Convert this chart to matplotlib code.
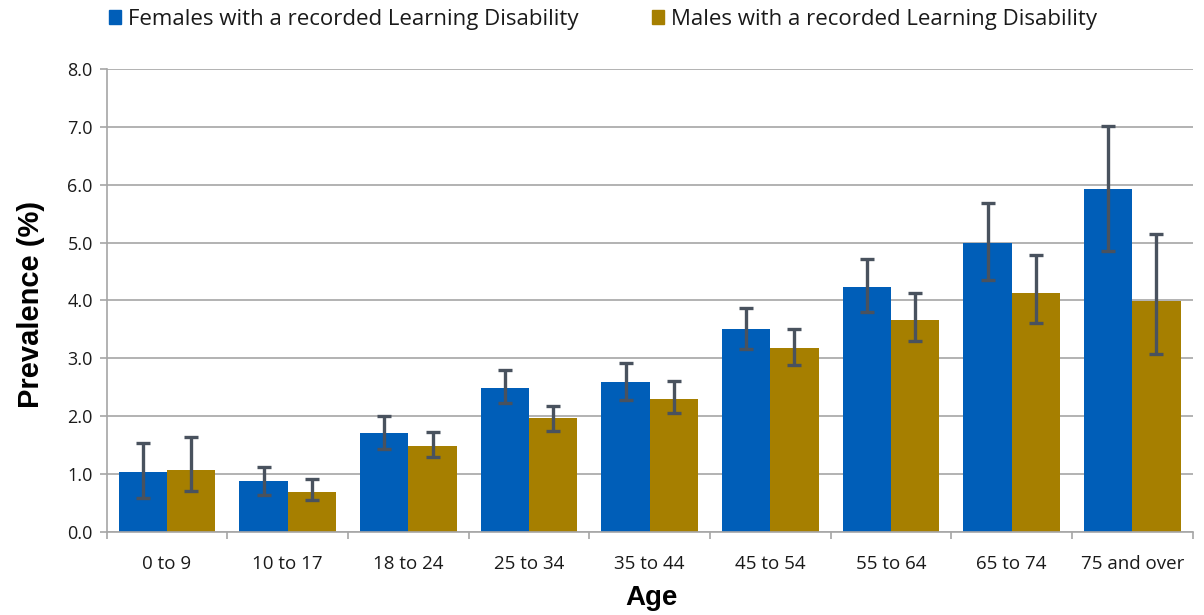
# prevalence of recorded learning disability by age and sex

import matplotlib
matplotlib.use("Agg")
import matplotlib.pyplot as plt
import matplotlib.patches as mpatches
import numpy as np

yas_gruplari = ["0 to 9", "10 to 17", "18 to 24", "25 to 34", "35 to 44",
                "45 to 54", "55 to 64", "65 to 74", "75 and over"]

kadin     = [1.04, 0.88, 1.71, 2.49, 2.59, 3.50, 4.23, 5.00, 5.92]
kadin_alt = [0.58, 0.64, 1.43, 2.22, 2.28, 3.16, 3.79, 4.36, 4.86]
kadin_ust = [1.53, 1.12, 2.00, 2.79, 2.92, 3.86, 4.71, 5.68, 7.02]

erkek     = [1.07, 0.69, 1.48, 1.96, 2.30, 3.18, 3.66, 4.13, 3.99]
erkek_alt = [0.71, 0.55, 1.30, 1.74, 2.06, 2.88, 3.29, 3.61, 3.07]
erkek_ust = [1.63, 0.91, 1.72, 2.18, 2.61, 3.51, 4.12, 4.78, 5.15]

MAVI  = "#005EB8"
ALTIN = "#A67F00"
HATA  = "#49525E"
IZGARA = "#A6A6A6"
YAZI = "#1A1A1A"

plt.rcParams["font.family"] = ["Open Sans", "DejaVu Sans"]

fig = plt.figure(figsize=(12.04, 6.15), dpi=100)
ax = fig.add_axes([106.7 / 1204, 1 - 531.7 / 615,
                   (1192.7 - 106.7) / 1204, (531.7 - 69) / 615])

x = np.arange(len(yas_gruplari))
genislik = 0.4

k_hata = [np.array(kadin) - np.array(kadin_alt), np.array(kadin_ust) - np.array(kadin)]
e_hata = [np.array(erkek) - np.array(erkek_alt), np.array(erkek_ust) - np.array(erkek)]

hata_stil = dict(ecolor=HATA, elinewidth=2.4, capsize=5, capthick=2.4)

ax.bar(x - genislik / 2, kadin, genislik, color=MAVI, zorder=2,
       yerr=k_hata, error_kw=hata_stil)
ax.bar(x + genislik / 2, erkek, genislik, color=ALTIN, zorder=2,
       yerr=e_hata, error_kw=hata_stil)

ax.set_xlim(-0.5, len(yas_gruplari) - 0.5)
ax.set_ylim(0, 8)
ax.set_yticks(np.arange(0, 8.1, 1.0))
ax.set_yticklabels([f"{v:.1f}" for v in np.arange(0, 8.1, 1.0)], fontsize=13, color=YAZI)
ax.yaxis.grid(True, color=IZGARA, linewidth=1.2, zorder=0)
ax.set_axisbelow(True)

# kategori sinirlarinda tick, ortada etiket
ax.set_xticks(np.arange(-0.5, len(yas_gruplari), 1.0))
ax.set_xticklabels([])
ax.set_xticks(x, minor=True)
ax.set_xticklabels(yas_gruplari, minor=True, fontsize=13.5, color=YAZI)
ax.tick_params(axis="x", which="major", direction="out", length=5, width=1.2, color=IZGARA)
ax.tick_params(axis="x", which="minor", length=0, pad=17)
ax.tick_params(axis="y", direction="out", length=5, width=1.2, color=IZGARA, pad=5)

for s in ["top", "right"]:
    ax.spines[s].set_visible(False)
for s in ["left", "bottom"]:
    ax.spines[s].set_color(IZGARA)
    ax.spines[s].set_linewidth(1.2)

fig.text(31 / 1204, 1 - 304 / 615, "Prevalence (%)", rotation=90,
         ha="center", va="center", fontsize=21, fontweight="bold",
         family=["Liberation Sans", "DejaVu Sans"])
fig.text(651 / 1204, 1 - 598 / 615, "Age", ha="center", va="center",
         fontsize=20, fontweight="bold", family=["Liberation Sans", "DejaVu Sans"])

tutamaclar = [mpatches.Patch(color=MAVI, label="Females with a recorded Learning Disability"),
              mpatches.Patch(color=ALTIN, label="Males with a recorded Learning Disability")]
fig.legend(handles=tutamaclar, loc="center left", bbox_to_anchor=(109 / 1204, 1 - 19.5 / 615),
           ncol=2, frameon=False, fontsize=16, borderpad=0, borderaxespad=0,
           handlelength=0.55, handleheight=0.55, handletextpad=0.3, columnspacing=3.3,
           labelcolor=YAZI)

fig.savefig("out.png", dpi=100)
